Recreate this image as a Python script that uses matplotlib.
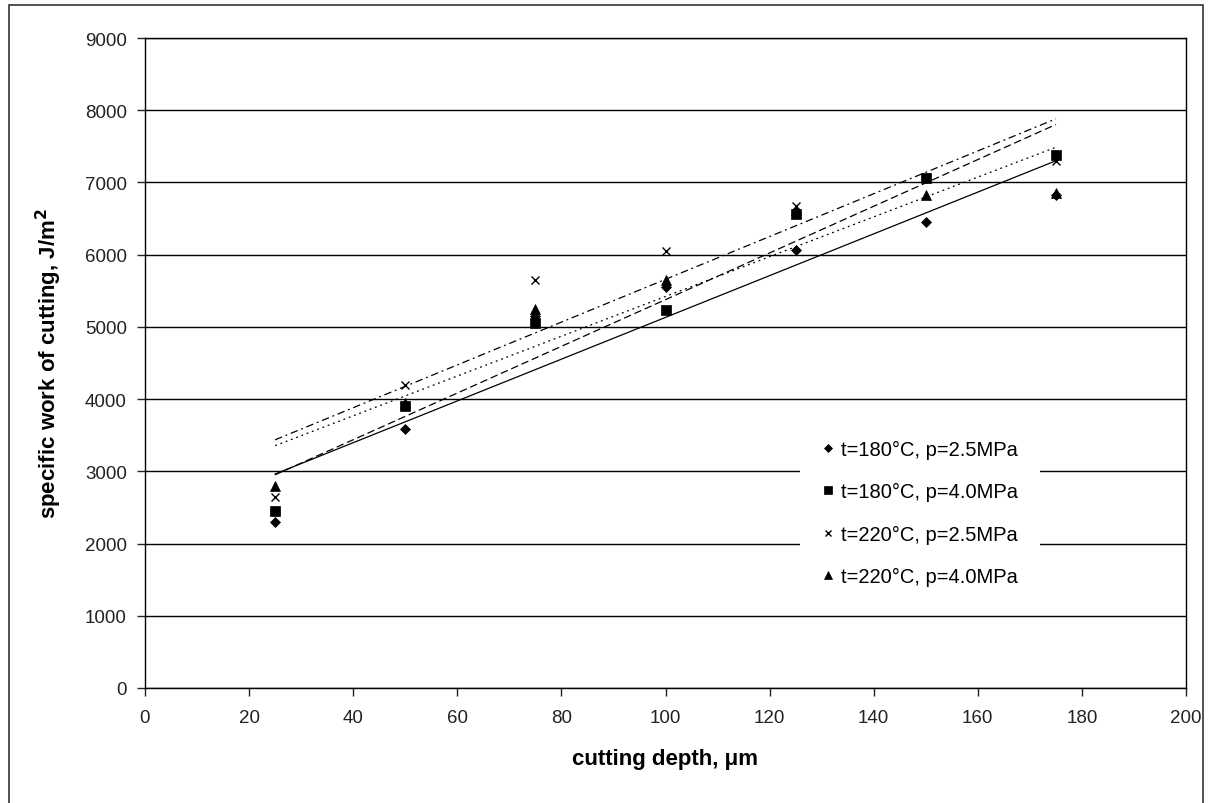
import numpy as np
import matplotlib
matplotlib.use("Agg")
import matplotlib.pyplot as plt
from matplotlib.lines import Line2D

plt.rcParams['font.family'] = ['Liberation Sans', 'DejaVu Sans']

depth = [25, 50, 75, 100, 125, 150, 175]
s180_25 = [2300, 3580, 5150, 5550, 6060, 6450, 6830]
s180_40 = [2450, 3900, 5050, 5230, 6570, 7060, 7380]
s220_25 = [2650, 4200, 5650, 6050, 6680, 7080, 7300]
s220_40 = [2800, 3950, 5250, 5650, 6620, 6830, 6850]
labels = ["t=180°C, p=2.5MPa", "t=180°C, p=4.0MPa",
          "t=220°C, p=2.5MPa", "t=220°C, p=4.0MPa"]
xticks = [0, 20, 40, 60, 80, 100, 120, 140, 160, 180, 200]
yticks = [0, 1000, 2000, 3000, 4000, 5000, 6000, 7000, 8000, 9000]

series = [s180_25, s180_40, s220_25, s220_40]
markers = ['D', 's', 'x', '^']
msizes = [5.5, 7, 6, 7.5]
linestyles = ['-', (0, (6, 3)), (0, (6, 3, 1.5, 3)), (0, (1.5, 3))]

fig = plt.figure(figsize=(12.08, 8.04), dpi=100)
ax = fig.add_axes([145/1208, 1-689/804, (1186-145)/1208, (689-39)/804])

x = np.array(depth, dtype=float)
handles = []
for ys, m, ms, ls, lab in zip(series, markers, msizes, linestyles, labels):
    y = np.array(ys, dtype=float)
    k, b = np.polyfit(x, y, 1)
    xl = np.array([x.min(), x.max()])
    ax.plot(xl, k*xl + b, color='black', lw=0.9, linestyle=ls, zorder=3)
    mew = 1.0 if m == 'x' else 0.5
    ax.plot(x, y, linestyle='none', marker=m, ms=ms, color='black',
            mec='black', mew=mew, zorder=4)
    handles.append(Line2D([], [], linestyle='none', marker=m, ms=ms*0.8,
                          color='black', mew=mew, label=lab))

ax.set_xlim(0, 200)
ax.set_ylim(0, 9000)
ax.set_xticks(xticks)
ax.set_yticks(yticks)
ax.yaxis.grid(True, color='black', lw=1.0)
ax.set_axisbelow(True)
for sp in ax.spines.values():
    sp.set_linewidth(1.0)
ax.tick_params(axis='both', direction='out', length=6, width=1.0,
               labelsize=13.5, colors='#222222', pad=9)
ax.tick_params(axis='y', pad=7)

ax.set_xlabel("cutting depth, μm", fontsize=16, fontweight='bold', labelpad=16)
ax.set_ylabel("specific work of cutting, J/m$^{\\mathbf{2}}$", fontsize=16,
              fontweight='bold', labelpad=15)

leg = ax.legend(handles=handles, loc='center left',
                bbox_to_anchor=((800-145)/(1186-145), 1-(514-39)/650),
                frameon=True, fancybox=False, framealpha=1,
                edgecolor='none', facecolor='white', fontsize=14.5,
                labelspacing=1.15, handlelength=0.6, handletextpad=0.35,
                borderpad=1.1, borderaxespad=0)
leg.set_zorder(5)

# outer figure border
fig.add_artist(plt.Rectangle((9/1208, -0.01), (1203-9)/1208, 1.01-6/804,
                             transform=fig.transFigure, fill=False,
                             edgecolor='#333333', lw=1.2))

fig.savefig("out.png", dpi=100, facecolor='white')
